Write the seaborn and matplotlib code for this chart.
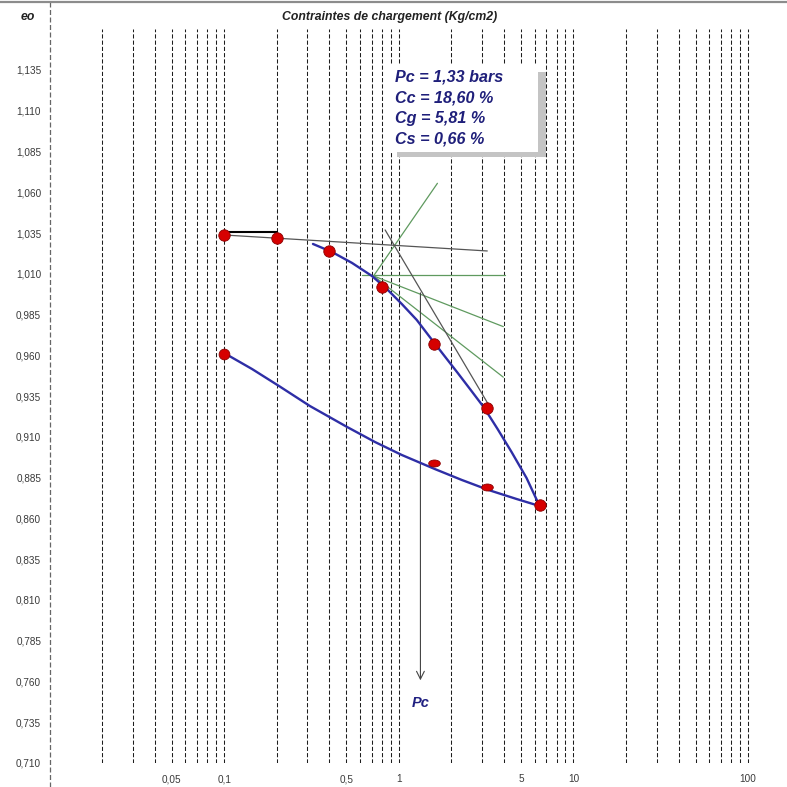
import numpy as np
import pandas as pd
import seaborn as sns
import matplotlib
matplotlib.use("Agg")
import matplotlib.pyplot as plt
from matplotlib.lines import Line2D
from matplotlib.patches import Rectangle
from matplotlib.path import Path
from matplotlib.ticker import FixedLocator, NullLocator

# ---- oedometer test data (pressure in kg/cm2, void ratio e) ----
pressure_load = [0.1, 0.2, 0.4, 0.8, 1.6, 3.2, 6.4]
void_load = [1.034, 1.032, 1.024, 1.002, 0.967, 0.928, 0.868]
pressure_unload = [3.2, 1.6, 0.1]
void_unload = [0.879, 0.894, 0.961]

# fitted compression / swelling curves
curve_load_p = [0.3225, 0.414, 0.539, 0.701, 0.854, 1.040, 1.267, 1.503, 1.808,
                2.174, 2.579, 3.060, 3.679, 4.423, 5.387, 6.4]
curve_load_e = [1.0283, 1.0234, 1.0167, 1.0087, 1.0007, 0.9915, 0.9817, 0.9713, 0.9602,
                0.9492, 0.9388, 0.9283, 0.9148, 0.9007, 0.8848, 0.8676]
curve_unload_p = [0.1, 0.1445, 0.206, 0.310, 0.505, 0.729, 1.040, 1.606, 2.291,
                  3.268, 4.725, 6.4]
curve_unload_e = [0.9614, 0.9516, 0.9412, 0.9289, 0.9161, 0.9069, 0.8989, 0.8903, 0.8836,
                  0.8774, 0.8719, 0.8676]

# Casagrande construction
casa_horizontal = ([0.614, 4.03], [1.0090, 1.0090])
casa_up = ([0.717, 1.664], [1.0087, 1.0655])
casa_bisector = ([0.717, 3.966], [1.0087, 0.9776])
casa_tangent = ([0.717, 3.966], [1.0087, 0.9466])
recompression_line = ([0.1, 3.21], [1.0338, 1.024])
initial_step = ([0.1, 0.2], [1.0356, 1.0356])
virgin_line = ([0.835, 3.27], [1.0369, 0.9296])
pc_value = 1.33
pc_arrow_e = (1.000, 0.759)
pc_label_e = 0.7468

summary_lines = ["Pc = 1,33 bars", "Cc = 18,60 %", "Cg = 5,81 %", "Cs = 0,66 %"]

grid_values = ([k * 0.01 for k in range(2, 10)] + [k * 0.1 for k in range(1, 10)]
               + [float(k) for k in range(1, 10)] + [k * 10.0 for k in range(1, 10)] + [100.0])
x_tick_values = [0.05, 0.1, 0.5, 1, 5, 10, 100]
x_tick_labels = ["0,05", "0,1", "0,5", "1", "5", "10", "100"]
y_tick_values = [round(0.71 + 0.025 * i, 3) for i in range(18)]

# ---- figure ----
sns.set_theme(style="white")
plt.rcParams["font.family"] = ["Liberation Sans", "DejaVu Sans"]

W = 787
fig = plt.figure(figsize=(7.87, 7.87), dpi=100)

def fx(px):
    return px / W

def fy(py):
    return 1 - py / W

ax = fig.add_axes([fx(49.5), fy(763), 1 - fx(49.5), fy(29.2) - fy(763)])
ax.set_xscale("log")
ax.set_xlim(0.01, 167)
ax.set_ylim(0.71, 1.16)
for s in ax.spines.values():
    s.set_visible(False)

# dashed vertical log grid
for v in grid_values:
    ax.axvline(v, color="#1e1e1e", lw=0.75, ls=(0, (4, 2)), zorder=1)

# curves
blue = "#2e2ea6"
sns.lineplot(x=curve_load_p, y=curve_load_e, sort=False, ax=ax, color=blue, lw=1.7, zorder=4)
sns.lineplot(x=curve_unload_p, y=curve_unload_e, sort=False, ax=ax, color=blue, lw=1.7, zorder=4)

# construction lines
green = "#5f9a5f"
for xs, ys in (casa_horizontal, casa_up, casa_bisector, casa_tangent):
    ax.plot(xs, ys, color=green, lw=0.9, zorder=3)
ax.plot(*recompression_line, color="#555555", lw=0.9, zorder=3)
ax.plot(*virgin_line, color="#555555", lw=0.9, zorder=3)
ax.plot(*initial_step, color="#000000", lw=1.5, zorder=3)

# measured points
df_load = pd.DataFrame({"p": pressure_load, "e": void_load})
sns.scatterplot(data=df_load, x="p", y="e", ax=ax, s=68, color="#d60000",
                edgecolor="#8a0000", linewidth=0.6, zorder=6)
circle = Path.unit_circle()
ellipse = Path(circle.vertices * np.array([1.0, 0.6]), circle.codes)
df_unload = pd.DataFrame({"p": pressure_unload, "e": void_unload})
sns.scatterplot(data=df_unload.iloc[:2], x="p", y="e", ax=ax, s=70, marker=ellipse,
                color="#d60000", edgecolor="#8a0000", linewidth=0.6, zorder=6)
sns.scatterplot(data=df_unload.iloc[2:], x="p", y="e", ax=ax, s=60, color="#d60000",
                edgecolor="#8a0000", linewidth=0.6, zorder=6)

# preconsolidation pressure arrow
ax.annotate("", xy=(pc_value, pc_arrow_e[1]), xytext=(pc_value, pc_arrow_e[0]),
            arrowprops=dict(arrowstyle="->", color="#444444", lw=0.8,
                            mutation_scale=14), zorder=3)
ax.text(pc_value, pc_label_e, "Pc", ha="center", va="center", fontsize=10.5,
        fontweight="bold", fontstyle="italic", color="#1f1f80")

# ticks
ax.xaxis.set_major_locator(FixedLocator(x_tick_values))
ax.xaxis.set_minor_locator(NullLocator())
ax.set_xticks(x_tick_values)
ax.set_xticklabels(x_tick_labels)
ax.set_yticks(y_tick_values)
ax.set_yticklabels([f"{v:.3f}".replace(".", ",") for v in y_tick_values])
ax.tick_params(axis="both", length=0, labelsize=7.2, labelcolor="#3a3a3a")
ax.tick_params(axis="x", pad=8)
ax.tick_params(axis="y", pad=6)
ax.set_xlabel("")
ax.set_ylabel("")
ax.set_yticks([], minor=True)

# frame lines and header
fig.add_artist(Line2D([fx(49.5), fx(49.5)], [0, 1], color="#666666", lw=0.9,
                      ls=(0, (4, 2)), transform=fig.transFigure))
fig.add_artist(Line2D([0, 1], [fy(2), fy(2)], color="#8c8c8c", lw=1.6,
                      transform=fig.transFigure))
fig.text(fx(27.5), fy(17), "eo", ha="center", va="center", fontsize=8.8,
         fontweight="bold", fontstyle="italic", color="#222222")
fig.text(fx(389.5), fy(17), "Contraintes de chargement (Kg/cm2)", ha="center", va="center",
         fontsize=8.8, fontweight="bold", fontstyle="italic", color="#222222")

# summary box with shadow
fig.add_artist(Rectangle((fx(397), fy(157)), fx(546) - fx(397), fy(72) - fy(157),
                         transform=fig.transFigure, facecolor="#c4c4c4",
                         edgecolor="none", zorder=7))
fig.add_artist(Rectangle((fx(390), fy(152)), fx(538) - fx(390), fy(65) - fy(152),
                         transform=fig.transFigure, facecolor="white",
                         edgecolor="none", zorder=8))
for i, line in enumerate(summary_lines):
    fig.text(fx(395), fy(77 + 20.8 * i), line, ha="left", va="center", fontsize=11.6,
             fontweight="bold", fontstyle="italic", color="#1f1f7a", zorder=9)

fig.savefig("out.png", dpi=100)
